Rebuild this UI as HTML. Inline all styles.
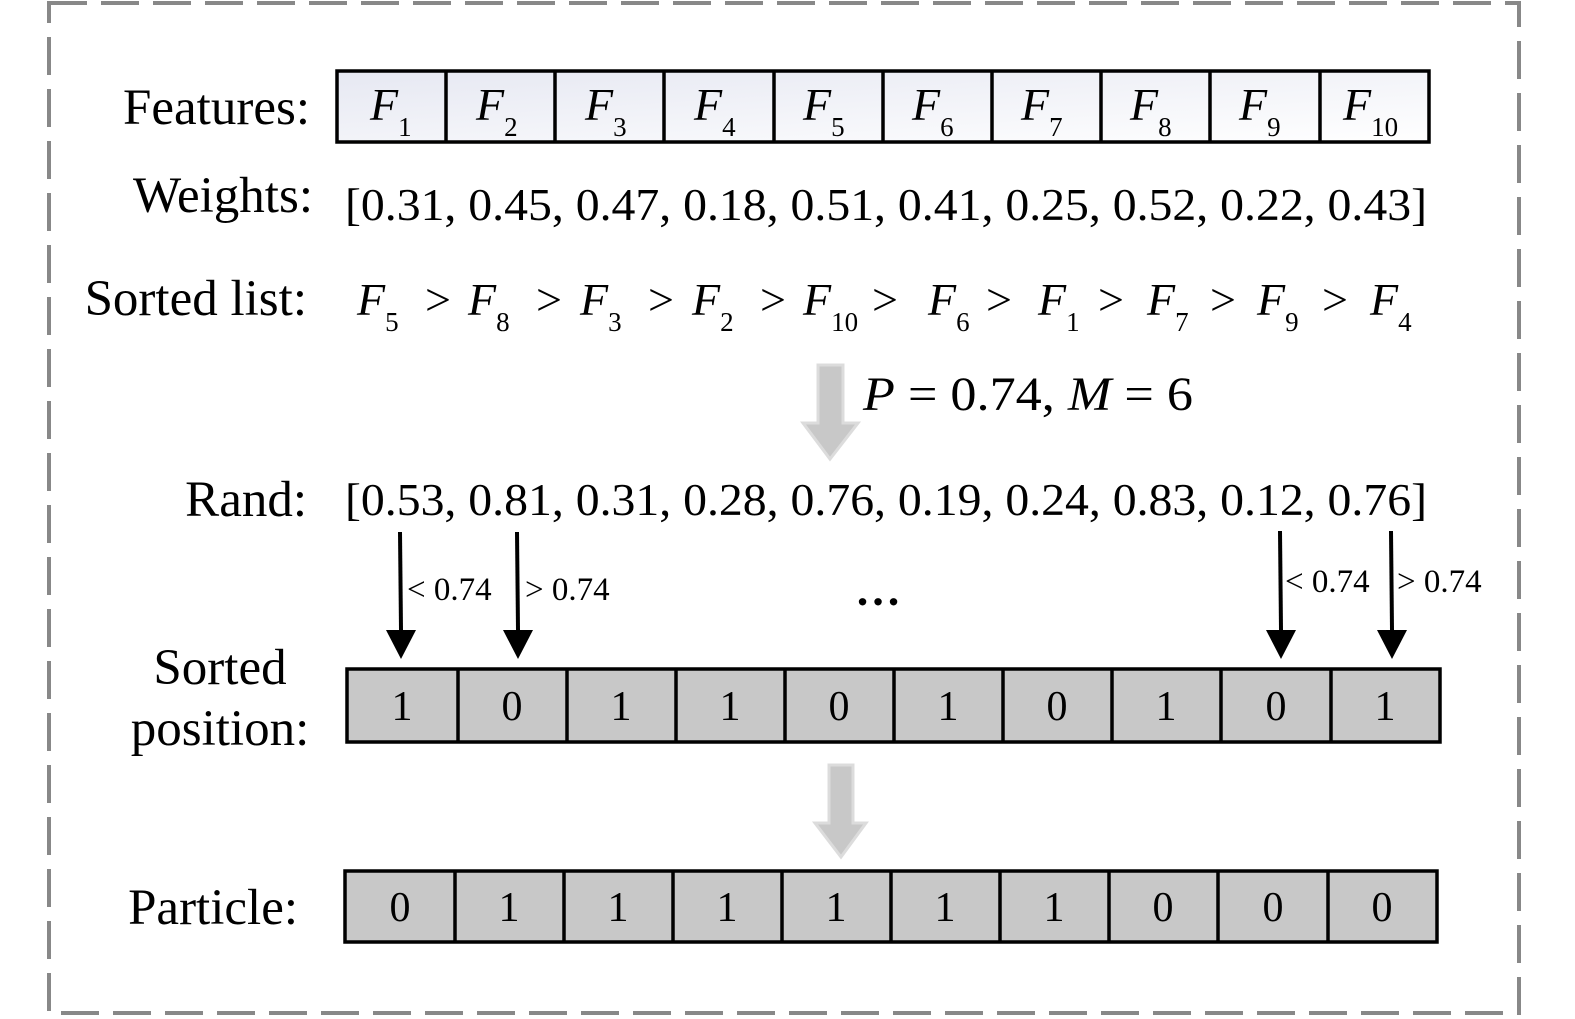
<!DOCTYPE html>
<html><head><style>
html,body{margin:0;padding:0;background:#fff;}
svg{display:block;}
text{font-family:"Liberation Serif",serif;fill:#000;}
</style></head><body>
<svg width="1575" height="1019" viewBox="0 0 1575 1019" xmlns="http://www.w3.org/2000/svg">
<defs>
<linearGradient id="fg" x1="0" y1="0" x2="1" y2="1"><stop offset="0" stop-color="#e6e8f2"/><stop offset="1" stop-color="#ffffff"/></linearGradient>
</defs>
<rect x="49" y="3" width="1470" height="1010" fill="none" stroke="#888" stroke-width="4" stroke-dasharray="38,14"/>

<!-- Labels -->
<text x="310" y="124" font-size="51" text-anchor="end">Features:</text>
<text x="313" y="212" font-size="51" text-anchor="end">Weights:</text>
<text x="307" y="315" font-size="51" text-anchor="end">Sorted list:</text>
<text x="307" y="516" font-size="51" text-anchor="end">Rand:</text>
<text x="220" y="684" font-size="51" text-anchor="middle">Sorted</text>
<text x="220" y="745" font-size="51" text-anchor="middle">position:</text>
<text x="298" y="924" font-size="51" text-anchor="end">Particle:</text>

<!-- Features row -->
<g stroke="#000" stroke-width="3.5">
<rect x="337" y="71" width="1092" height="71" fill="url(#fg)"/>
<line x1="446" y1="71" x2="446" y2="142"/><line x1="555" y1="71" x2="555" y2="142"/><line x1="664" y1="71" x2="664" y2="142"/><line x1="774" y1="71" x2="774" y2="142"/><line x1="883" y1="71" x2="883" y2="142"/><line x1="992" y1="71" x2="992" y2="142"/><line x1="1101" y1="71" x2="1101" y2="142"/><line x1="1210" y1="71" x2="1210" y2="142"/><line x1="1320" y1="71" x2="1320" y2="142"/>
</g>
<g font-size="46" font-style="italic">
<text x="370" y="120">F<tspan font-style="normal" font-size="27" dy="16">1</tspan></text>
<text x="476" y="120">F<tspan font-style="normal" font-size="27" dy="16">2</tspan></text>
<text x="585" y="120">F<tspan font-style="normal" font-size="27" dy="16">3</tspan></text>
<text x="694" y="120">F<tspan font-style="normal" font-size="27" dy="16">4</tspan></text>
<text x="803" y="120">F<tspan font-style="normal" font-size="27" dy="16">5</tspan></text>
<text x="912" y="120">F<tspan font-style="normal" font-size="27" dy="16">6</tspan></text>
<text x="1021" y="120">F<tspan font-style="normal" font-size="27" dy="16">7</tspan></text>
<text x="1130" y="120">F<tspan font-style="normal" font-size="27" dy="16">8</tspan></text>
<text x="1239" y="120">F<tspan font-style="normal" font-size="27" dy="16">9</tspan></text>
<text x="1343" y="120">F<tspan font-style="normal" font-size="27" dy="16">10</tspan></text>
</g>

<text x="345" y="220" font-size="45" textLength="1082" lengthAdjust="spacingAndGlyphs">[0.31, 0.45, 0.47, 0.18, 0.51, 0.41, 0.25, 0.52, 0.22, 0.43]</text>

<!-- Sorted list -->
<g font-size="46">
<text x="357" y="315"><tspan font-style="italic">F</tspan><tspan font-size="27" dy="16">5</tspan></text>
<text x="425" y="315">&gt;</text>
<text x="468" y="315"><tspan font-style="italic">F</tspan><tspan font-size="27" dy="16">8</tspan></text>
<text x="536" y="315">&gt;</text>
<text x="580" y="315"><tspan font-style="italic">F</tspan><tspan font-size="27" dy="16">3</tspan></text>
<text x="648" y="315">&gt;</text>
<text x="692" y="315"><tspan font-style="italic">F</tspan><tspan font-size="27" dy="16">2</tspan></text>
<text x="760" y="315">&gt;</text>
<text x="803" y="315"><tspan font-style="italic">F</tspan><tspan font-size="27" dy="16">10</tspan></text>
<text x="872" y="315">&gt;</text>
<text x="928" y="315"><tspan font-style="italic">F</tspan><tspan font-size="27" dy="16">6</tspan></text>
<text x="986" y="315">&gt;</text>
<text x="1038" y="315"><tspan font-style="italic">F</tspan><tspan font-size="27" dy="16">1</tspan></text>
<text x="1098" y="315">&gt;</text>
<text x="1147" y="315"><tspan font-style="italic">F</tspan><tspan font-size="27" dy="16">7</tspan></text>
<text x="1210" y="315">&gt;</text>
<text x="1257" y="315"><tspan font-style="italic">F</tspan><tspan font-size="27" dy="16">9</tspan></text>
<text x="1322" y="315">&gt;</text>
<text x="1370" y="315"><tspan font-style="italic">F</tspan><tspan font-size="27" dy="16">4</tspan></text>
</g>

<!-- gray arrow 1 -->
<polygon points="818,365 843,365 843,423 858,423 830,459 803,423 818,423" fill="#c8c8c8" stroke="#dcdcdc" stroke-width="3"/>
<text x="863" y="410" font-size="48" textLength="330" lengthAdjust="spacingAndGlyphs"><tspan font-style="italic">P</tspan> = 0.74, <tspan font-style="italic">M</tspan> = 6</text>

<text x="345" y="515" font-size="45" textLength="1082" lengthAdjust="spacingAndGlyphs">[0.53, 0.81, 0.31, 0.28, 0.76, 0.19, 0.24, 0.83, 0.12, 0.76]</text>

<!-- black arrows -->
<g stroke="#000" stroke-width="4">
<line x1="400" y1="532" x2="401" y2="630"/>
<line x1="517" y1="532" x2="518" y2="630"/>
<line x1="1280" y1="531" x2="1281" y2="630"/>
<line x1="1391" y1="531" x2="1392" y2="630"/>
</g>
<g fill="#000">
<polygon points="386,630 416,630 401,659"/>
<polygon points="503,630 533,630 518,659"/>
<polygon points="1266,630 1296,630 1281,659"/>
<polygon points="1377,630 1407,630 1392,659"/>
</g>
<g font-size="33">
<text x="407" y="600">&lt; 0.74</text>
<text x="525" y="600">&gt; 0.74</text>
<text x="1285" y="592">&lt; 0.74</text>
<text x="1397" y="592">&gt; 0.74</text>
</g>
<text x="855" y="605" font-size="46" font-weight="bold">…</text>

<!-- sorted position row -->
<g stroke="#000" stroke-width="3.5">
<rect x="347" y="669" width="1093" height="73" fill="#c8c8c8"/>
<line x1="458" y1="669" x2="458" y2="742"/><line x1="567" y1="669" x2="567" y2="742"/><line x1="676" y1="669" x2="676" y2="742"/><line x1="785" y1="669" x2="785" y2="742"/><line x1="894" y1="669" x2="894" y2="742"/><line x1="1003" y1="669" x2="1003" y2="742"/><line x1="1112" y1="669" x2="1112" y2="742"/><line x1="1221" y1="669" x2="1221" y2="742"/><line x1="1331" y1="669" x2="1331" y2="742"/>
</g>
<g font-size="42" text-anchor="middle">
<text x="402" y="720">1</text><text x="512" y="720">0</text><text x="621" y="720">1</text><text x="730" y="720">1</text><text x="839" y="720">0</text><text x="948" y="720">1</text><text x="1057" y="720">0</text><text x="1166" y="720">1</text><text x="1276" y="720">0</text><text x="1385" y="720">1</text>
</g>

<!-- gray arrow 2 -->
<polygon points="829,765 853,765 853,823 866,823 841,857 815,823 829,823" fill="#c8c8c8" stroke="#dcdcdc" stroke-width="3"/>

<!-- particle row -->
<g stroke="#000" stroke-width="3.5">
<rect x="345" y="871" width="1092" height="71" fill="#c8c8c8"/>
<line x1="455" y1="871" x2="455" y2="942"/><line x1="564" y1="871" x2="564" y2="942"/><line x1="673" y1="871" x2="673" y2="942"/><line x1="782" y1="871" x2="782" y2="942"/><line x1="891" y1="871" x2="891" y2="942"/><line x1="1000" y1="871" x2="1000" y2="942"/><line x1="1109" y1="871" x2="1109" y2="942"/><line x1="1218" y1="871" x2="1218" y2="942"/><line x1="1328" y1="871" x2="1328" y2="942"/>
</g>
<g font-size="42" text-anchor="middle">
<text x="400" y="921">0</text><text x="509" y="921">1</text><text x="618" y="921">1</text><text x="727" y="921">1</text><text x="836" y="921">1</text><text x="945" y="921">1</text><text x="1054" y="921">1</text><text x="1163" y="921">0</text><text x="1273" y="921">0</text><text x="1382" y="921">0</text>
</g>
</svg>
</body></html>
